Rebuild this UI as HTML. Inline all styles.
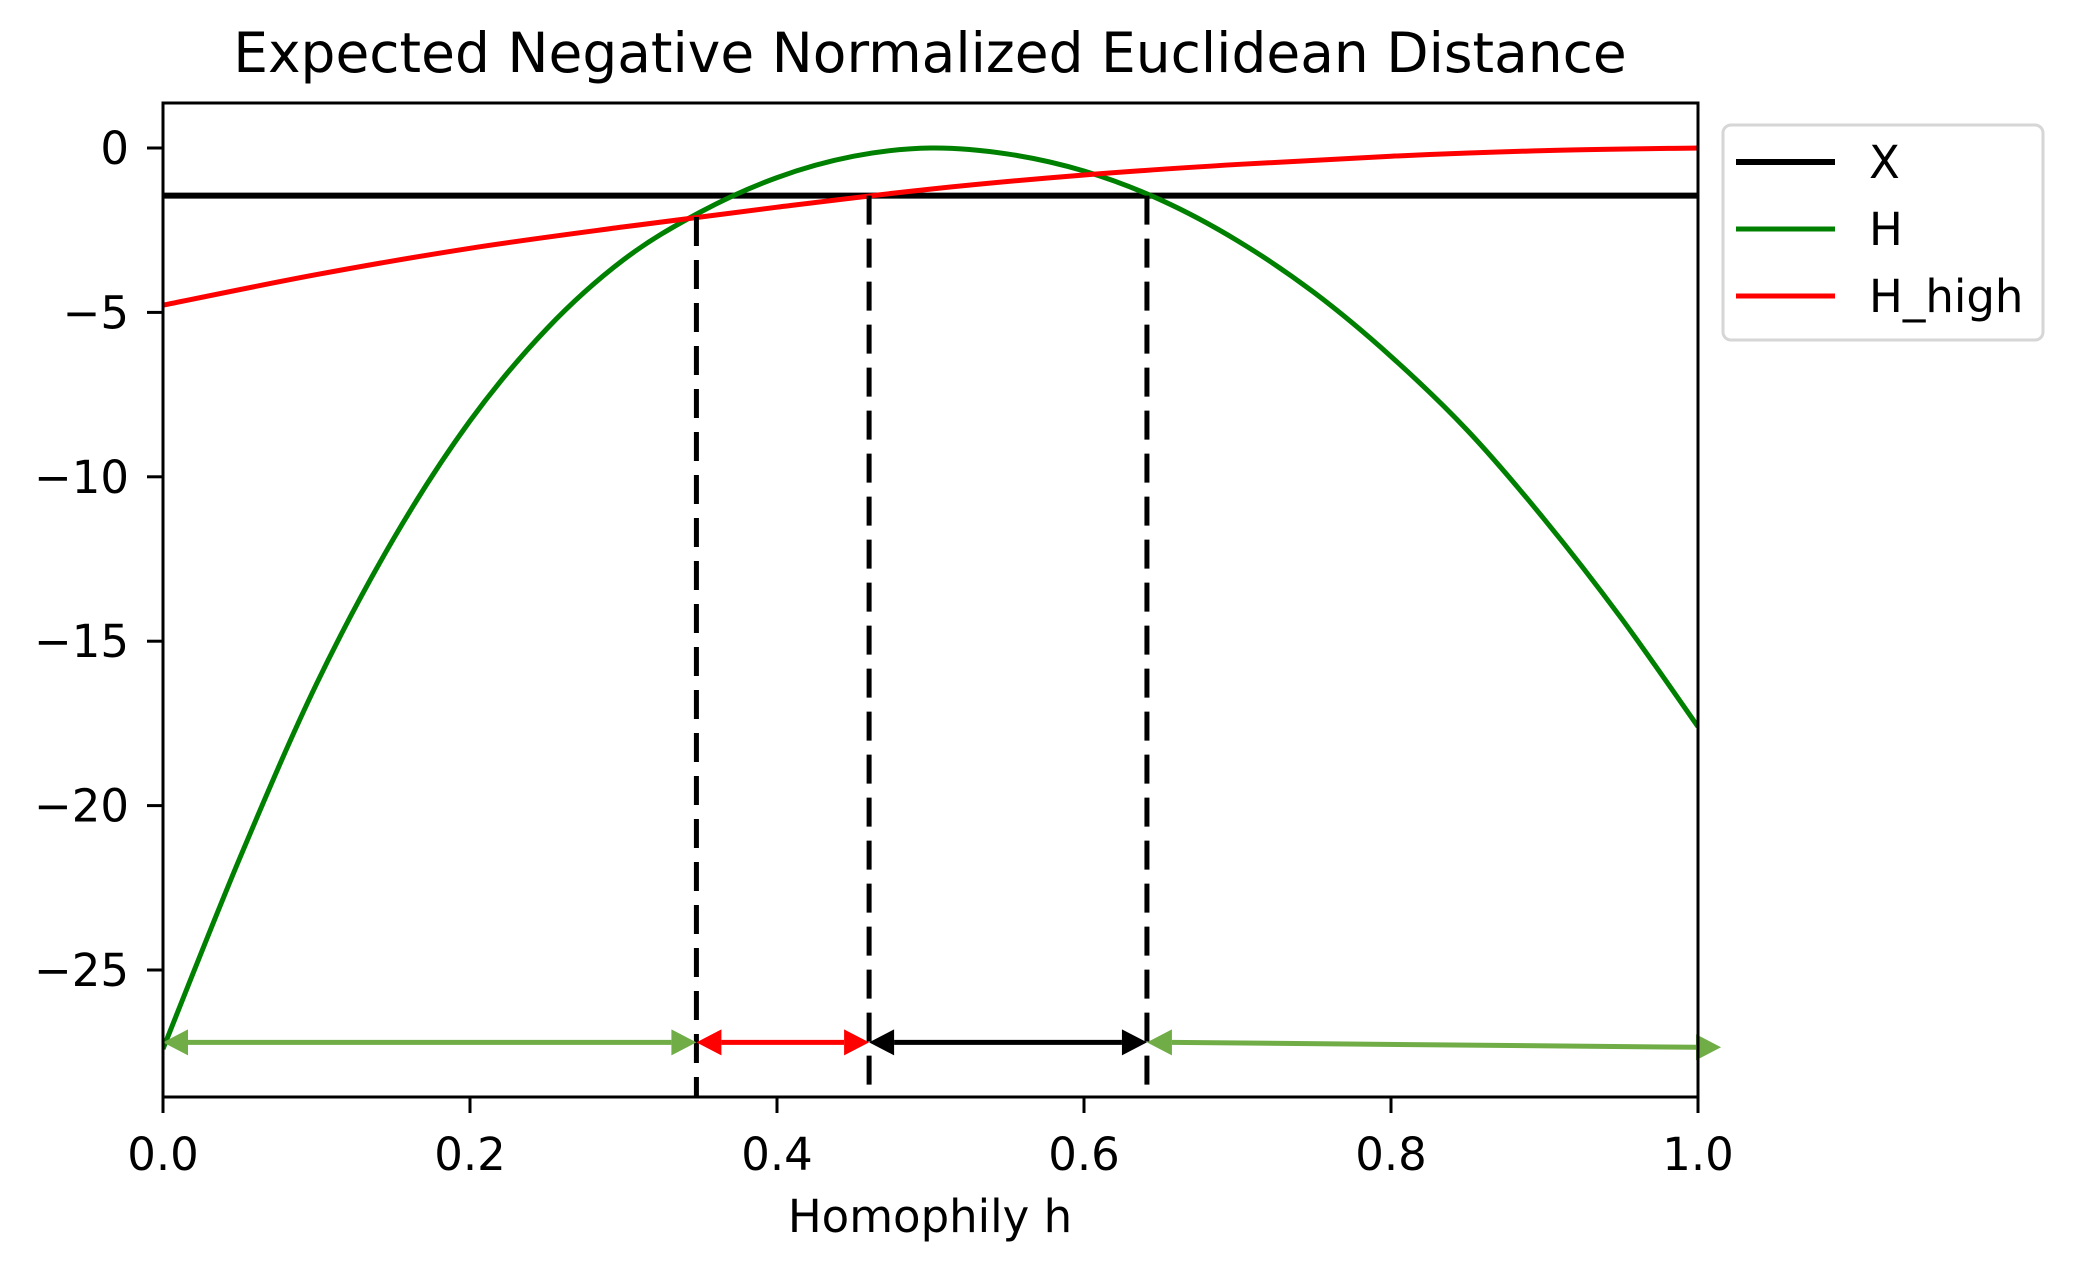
<!DOCTYPE html>
<html><head><meta charset="utf-8"><style>
html,body{margin:0;padding:0;background:#fff;}
svg{display:block;font-family:"DejaVu Sans","Liberation Sans",sans-serif;}
</style></head><body>
<svg id="chart" width="2080" height="1269" viewBox="0 0 2080 1269" xmlns="http://www.w3.org/2000/svg">
<rect x="0" y="0" width="2080" height="1269" fill="#fff"/>
<text x="930" y="72" font-size="55" text-anchor="middle">Expected Negative Normalized Euclidean Distance</text>
<g id="plot"></g>
<rect x="163" y="103" width="1535" height="994" fill="none" stroke="#000" stroke-width="3"/>
<g id="axes"></g>
<text x="930" y="1232" font-size="45" text-anchor="middle">Homophily h</text>
<g>
<rect x="1723" y="125" width="320" height="215" rx="8" fill="#fff" stroke="#d6d6d6" stroke-width="3"/>
<line x1="1736" y1="162" x2="1835" y2="162" stroke="#000" stroke-width="6"/>
<text x="1869" y="178" font-size="45">X</text>
<line x1="1736" y1="229" x2="1835" y2="229" stroke="#008000" stroke-width="5"/>
<text x="1869" y="245" font-size="45">H</text>
<line x1="1736" y1="296" x2="1835" y2="296" stroke="#ff0000" stroke-width="5"/>
<text x="1869" y="312" font-size="45">H_high</text>
</g>
</svg>
<script>
const hX = [0,0.05,0.1,0.15,0.2,0.25,0.3,0.35,0.4,0.45,0.5,0.55,0.6,0.65,0.7,0.75,0.8,0.85,0.9,0.95,1.0];
const hValues = [-27.4,-21.6,-16.3,-11.9,-8.3,-5.5,-3.4,-1.95,-0.9,-0.25,0,-0.18,-0.7,-1.58,-2.82,-4.4,-6.34,-8.6,-11.3,-14.3,-17.6];
const highX = [0,0.1,0.2,0.3,0.4,0.5,0.6,0.7,0.8,0.9,1.0];
const highValues = [-4.78,-3.85,-3.05,-2.4,-1.8,-1.25,-0.82,-0.5,-0.25,-0.08,0];
const xLevel = -1.45;
const crossings = [0.3475,0.46,0.641];
const crossTops = [-2.1,-1.45,-1.45];
const arrowY = -27.2;
const xTicks = [0,0.2,0.4,0.6,0.8,1.0];
const xTickLabels = ["0.0","0.2","0.4","0.6","0.8","1.0"];
const yTicks = [0,-5,-10,-15,-20,-25];
const yTickLabels = ["0","\u22125","\u221210","\u221215","\u221220","\u221225"];

const NS="http://www.w3.org/2000/svg";
const X0=163,X1=1698,Y0val=148,PX=32.88;
function sx(v){return X0+v*(X1-X0);}
function sy(v){return Y0val-v*PX;}
const plot=document.getElementById('plot'), axes=document.getElementById('axes');
function mk(tag,attrs,parent){const e=document.createElementNS(NS,tag);for(const k in attrs)e.setAttribute(k,attrs[k]);parent.appendChild(e);return e;}

function smooth(xs,ys){
  const p=xs.map((x,i)=>[sx(x),sy(ys[i])]);
  let d=`M${p[0][0]},${p[0][1]}`;
  for(let i=0;i<p.length-1;i++){
    const p0=p[Math.max(0,i-1)],p1=p[i],p2=p[i+1],p3=p[Math.min(p.length-1,i+2)];
    const c1=[p1[0]+(p2[0]-p0[0])/6,p1[1]+(p2[1]-p0[1])/6];
    const c2=[p2[0]-(p3[0]-p1[0])/6,p2[1]-(p3[1]-p1[1])/6];
    d+=` C${c1[0]},${c1[1]} ${c2[0]},${c2[1]} ${p2[0]},${p2[1]}`;
  }
  return d;
}
const clip=mk('clipPath',{id:'pc'},plot);
mk('rect',{x:X0,y:103,width:X1-X0,height:994},clip);
const g=mk('g',{'clip-path':'url(#pc)'},plot);

const xl=mk('line',{x1:sx(0),x2:sx(1),y1:sy(xLevel),y2:sy(xLevel),stroke:'#000','stroke-width':6},g);


const hp=mk('path',{d:smooth(hX,hValues),fill:'none',stroke:'#008000','stroke-width':5},g);


const rp=mk('path',{d:smooth(highX,highValues),fill:'none',stroke:'#ff0000','stroke-width':5},g);



crossings.forEach((c,i)=>{
  const l=mk('line',{x1:sx(c),x2:sx(c),y1:sy(crossTops[i]),y2:1097,stroke:'#000','stroke-width':5,'stroke-dasharray':'29 14'},plot);
  
  
});

function arrow(a,b,ya,yb,color,name){
  const x1=sx(a),x2=sx(b),y1=sy(ya),y2=sy(yb);
  const gg=mk('g',{},plot);
  
  
  const L=25,W=13;
  mk('line',{x1:x1+L,y1:y1,x2:x2-L,y2:y2,stroke:color,'stroke-width':5},gg);
  mk('polygon',{points:`${x1},${y1} ${x1+L},${y1-W} ${x1+L},${y1+W}`,fill:color},gg);
  mk('polygon',{points:`${x2},${y2} ${x2-L},${y2-W} ${x2-L},${y2+W}`,fill:color},gg);
}
arrow(0,crossings[0],arrowY,arrowY,'#70ad47','arrow-low-h');
arrow(crossings[0],crossings[1],arrowY,arrowY,'#ff0000','arrow-h-high');
arrow(crossings[1],crossings[2],arrowY,arrowY,'#000000','arrow-x');
arrow(crossings[2],1.015,arrowY,-27.35,'#70ad47','arrow-high-h');

xTicks.forEach((t,i)=>{
  const l=mk('line',{x1:sx(t),x2:sx(t),y1:1097,y2:1113,stroke:'#000','stroke-width':3},axes);
  
  
  const tx=mk('text',{x:sx(t),y:1170,'font-size':45,'text-anchor':'middle'},axes);
  tx.textContent=xTickLabels[i];
  
  
});
yTicks.forEach((t,i)=>{
  const l=mk('line',{x1:147,x2:163,y1:sy(t),y2:sy(t),stroke:'#000','stroke-width':3},axes);
  
  
  const tx=mk('text',{x:129,y:sy(t)+16,'font-size':45,'text-anchor':'end'},axes);
  tx.textContent=yTickLabels[i];
  
  
});
</script>
</body></html>
